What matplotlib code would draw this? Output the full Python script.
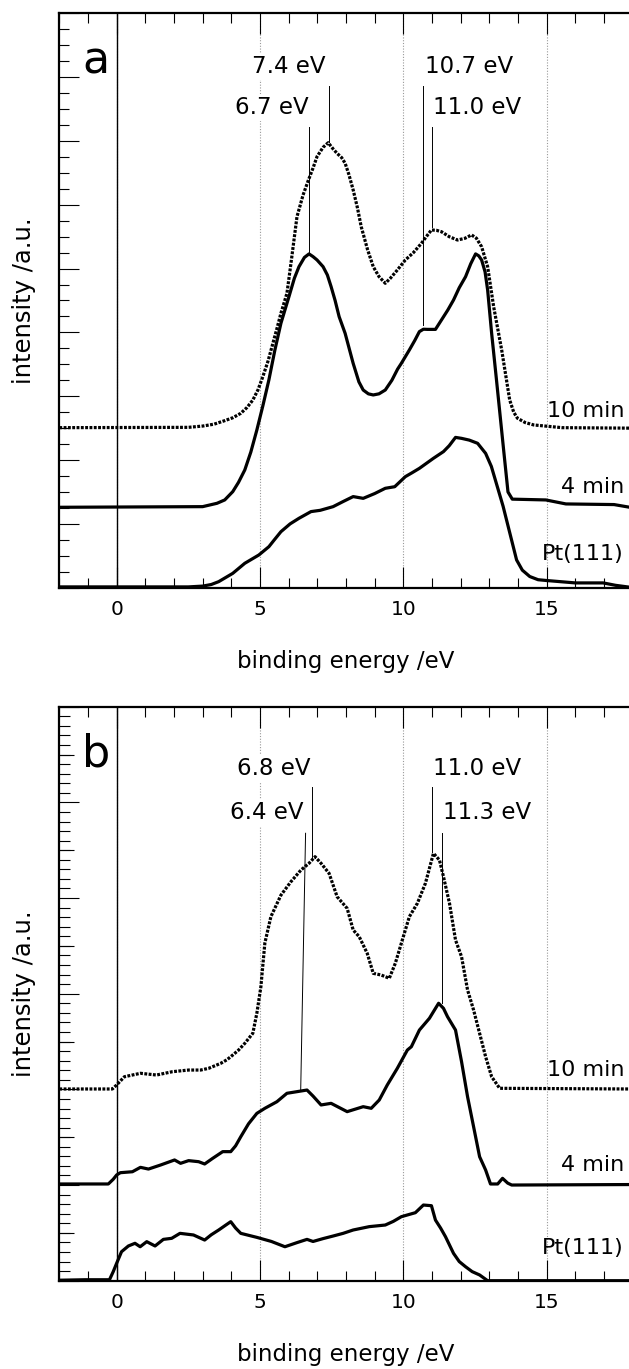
import numpy as np
import matplotlib.pyplot as plt
from matplotlib.ticker import MultipleLocator

plt.rcParams['font.family'] = ['DejaVu Sans']

# ---- panel a : spectra (binding energy / eV, intensity offset in a.u.)
a_pt_x = [-2.0, 2.5, 3.0, 3.3, 3.56, 4.05, 4.47, 4.96, 5.31, 5.5, 5.73, 6.05, 6.36, 6.78, 7.1, 7.55,
          7.9, 8.25, 8.6, 9.0, 9.37, 9.7, 10.07, 10.3, 10.56, 11.05, 11.4, 11.6, 11.82, 12.03,
          12.3, 12.59, 12.87, 13.07, 13.48, 13.95, 14.15, 14.41, 14.7, 15.0, 16.0, 16.97, 17.4, 17.9]
a_pt_y = [0.05, 0.05, 0.1, 0.2, 0.38, 0.9, 1.53, 2.05, 2.57, 3.0, 3.51, 4.0, 4.35, 4.77, 4.85, 5.08,
          5.4, 5.71, 5.6, 5.9, 6.23, 6.33, 6.96, 7.2, 7.48, 8.11, 8.53, 8.9, 9.42, 9.36,
          9.25, 9.05, 8.42, 7.6, 5.1, 1.74, 1.1, 0.7, 0.5, 0.45, 0.3, 0.3, 0.15, 0.03]

a_4min_x = [-2.0, 3.0, 3.5, 3.77, 4.05, 4.25, 4.47, 4.68, 4.89, 5.1, 5.31, 5.52, 5.73, 6.01, 6.2,
            6.36, 6.55, 6.71, 6.85, 6.99, 7.2, 7.35, 7.48, 7.62, 7.76, 7.97, 8.25, 8.45, 8.6,
            8.78, 8.95, 9.15, 9.37, 9.6, 9.8, 9.93, 10.21, 10.4, 10.56, 10.7, 10.84, 11.12, 11.33,
            11.55, 11.75, 11.95, 12.17, 12.35, 12.52, 12.63, 12.73, 12.85, 12.94, 13.08, 13.25,
            13.5, 13.65, 13.8, 14.97, 15.67, 17.35, 17.9]
a_4min_y = [5.04, 5.08, 5.29, 5.5, 6.02, 6.6, 7.38, 8.5, 9.88, 11.4, 13.02, 14.9, 16.57, 18.24, 19.4,
            20.12, 20.7, 20.92, 20.75, 20.54, 20.12, 19.6, 18.87, 18.0, 16.99, 15.94, 14.06, 12.9, 12.39,
            12.15, 12.08, 12.15, 12.39, 13.0, 13.7, 14.06, 14.9, 15.5, 16.05, 16.2, 16.19, 16.19, 16.78,
            17.4, 18.03, 18.8, 19.49, 20.3, 20.92, 20.8, 20.54, 19.8, 18.66, 15.94, 13.0,
            8.6, 6.0, 5.55, 5.5, 5.25, 5.21, 5.04]

a_10min_x = [-2.0, 2.5, 3.0, 3.4, 3.77, 4.05, 4.33, 4.55, 4.75, 4.93, 5.1, 5.28, 5.45, 5.6, 5.73,
             5.94, 6.1, 6.29, 6.5, 6.69, 6.85, 6.99, 7.2, 7.38, 7.55, 7.69, 7.85, 7.97, 8.1, 8.25,
             8.4, 8.53, 8.75, 8.95, 9.15, 9.37, 9.55, 9.79, 10.07, 10.35, 10.63, 10.8, 10.98, 11.15,
             11.33, 11.6, 11.89, 12.15, 12.38, 12.55, 12.73, 12.94, 13.15, 13.43, 13.71, 13.85,
             13.98, 14.25, 14.55, 15.53, 17.9]
a_10min_y = [10.03, 10.05, 10.13, 10.25, 10.47, 10.65, 10.93, 11.3, 11.76, 12.4, 13.23, 14.2, 15.32, 16.3, 17.2,
             18.45, 20.6, 23.25, 24.6, 25.55, 26.3, 27.02, 27.6, 27.89, 27.5, 27.22, 26.95, 26.6, 25.9, 24.93,
             23.8, 22.63, 21.2, 20.12, 19.5, 19.08, 19.4, 19.91, 20.54, 21.0, 21.58, 22.0, 22.42, 22.4,
             22.31, 22.0, 21.79, 21.9, 22.11, 21.9, 21.37, 20.12, 17.61, 14.9, 11.76, 11.0,
             10.62, 10.35, 10.2, 10.03, 10.0]

# ---- panel b
b_pt_x = [-2.0, -1.1, -0.25, -0.12, 0.0, 0.17, 0.41, 0.64, 0.82, 1.05, 1.34, 1.63, 1.92, 2.21,
          2.68, 3.07, 3.3, 3.56, 3.8, 3.98, 4.15, 4.33, 4.89, 5.4, 5.87, 6.29, 6.64, 6.85, 7.2, 7.55,
          7.9, 8.25, 8.81, 9.37, 9.65, 9.93, 10.42, 10.7, 10.98, 11.12, 11.3, 11.47, 11.75, 11.95,
          12.17, 12.4, 12.66, 12.94, 17.9]
b_pt_y = [0.05, 0.1, 0.1, 0.94, 1.82, 3.03, 3.63, 3.91, 3.55, 4.08, 3.63, 4.32, 4.43, 4.95,
          4.78, 4.25, 4.8, 5.3, 5.8, 6.17, 5.5, 4.95, 4.53, 4.1, 3.55, 3.98, 4.32, 4.1, 4.4, 4.67,
          4.95, 5.3, 5.65, 5.82, 6.2, 6.69, 7.11, 7.91, 7.84, 6.34, 5.5, 4.6, 2.86, 2.0,
          1.46, 0.95, 0.6, 0.0, 0.0]

b_4min_x = [-2.0, -0.29, -0.12, 0.0, 0.13, 0.55, 0.83, 1.11, 1.53, 2.02, 2.23, 2.51, 2.86, 3.07, 3.35,
            3.7, 3.98, 4.15, 4.33, 4.6, 4.89, 5.17, 5.59, 5.94, 6.29, 6.64, 6.85, 7.13, 7.48, 8.04,
            8.6, 8.88, 9.16, 9.44, 9.79, 10.14, 10.28, 10.56, 10.91, 11.05, 11.23, 11.4, 11.54,
            11.82, 12.03, 12.24, 12.45, 12.66, 12.87, 13.04, 13.29, 13.46, 13.64, 13.78, 17.9]
b_4min_y = [10.11, 10.11, 10.6, 11.05, 11.29, 11.39, 11.85, 11.67, 12.09, 12.62, 12.27, 12.55, 12.44, 12.2, 12.79,
            13.49, 13.49, 14.1, 15.05, 16.4, 17.49, 18.02, 18.71, 19.59, 19.76, 19.93, 19.3, 18.37, 18.54, 17.67,
            18.19, 18.02, 18.89, 20.46, 22.2, 24.11, 24.46, 26.2, 27.43, 28.12, 29.0, 28.47, 27.6,
            26.2, 22.9, 19.23, 16.1, 12.96, 11.57, 10.11, 10.11, 10.7, 10.2, 10.0, 10.05]

b_10min_x = [-2.0, -0.15, 0.0, 0.27, 0.83, 1.39, 1.95, 2.51, 2.93, 3.21, 3.63, 3.85, 4.05, 4.25,
             4.47, 4.6, 4.75, 4.89, 5.03, 5.17, 5.38, 5.73, 6.08, 6.43, 6.71, 6.92, 7.13, 7.41, 7.69,
             8.04, 8.25, 8.46, 8.74, 8.95, 9.23, 9.51, 9.72, 9.93, 10.21, 10.49, 10.77, 11.05, 11.26,
             11.4, 11.61, 11.82, 12.03, 12.24, 12.45, 12.66, 12.87, 13.08, 13.36, 17.9]
b_10min_y = [20.04, 20.04, 20.46, 21.32, 21.68, 21.5, 21.85, 22.02, 22.02, 22.2, 22.72, 23.1, 23.59, 24.1,
             24.81, 25.3, 25.86, 27.95, 30.7, 35.3, 38.05, 40.3, 41.71, 42.93, 43.63, 44.32, 43.63, 42.58, 40.14,
             38.92, 36.66, 35.96, 34.22, 32.13, 31.95, 31.61, 33.18, 35.27, 38.05, 39.45, 41.54, 44.67, 43.97,
             42.23, 39.45, 35.61, 33.87, 30.39, 28.3, 25.86, 23.41, 21.32, 20.11, 20.04]

# peak markers: label, label x, align, label y, line x top, line y top, line x bottom, line y bottom
a_marks = [("7.4 eV", 7.27, "right", 32.28, 7.4, 31.44, 7.4, 27.95),
           ("6.7 eV", 6.70, "right", 29.67, 6.7, 28.89, 6.7, 20.96),
           ("10.7 eV", 10.75, "left", 32.28, 10.7, 31.44, 10.7, 16.46),
           ("11.0 eV", 11.03, "left", 29.67, 11.0, 28.89, 11.0, 22.63)]
b_marks = [("6.8 eV", 6.77, "right", 52.86, 6.8, 51.57, 6.8, 43.97),
           ("6.4 eV", 6.52, "right", 48.23, 6.59, 46.77, 6.42, 19.93),
           ("11.0 eV", 11.04, "left", 52.86, 11.0, 51.57, 11.0, 44.84),
           ("11.3 eV", 11.39, "left", 48.23, 11.35, 46.77, 11.35, 29.0)]

# curve names and the heights of their labels
names = ["10 min", "4 min", "Pt(111)"]
a_name_y = [10.72, 5.92, 1.74]
b_name_y = [21.4, 11.47, 2.8]

W, H = 629, 1369
fig = plt.figure(figsize=(W / 100, H / 100), dpi=100)
ax_a = fig.add_axes([59.3 / W, 1 - 587.7 / H, 573.4 / W, 574.4 / H])
ax_b = fig.add_axes([59.3 / W, 1 - 1280.7 / H, 573.4 / W, 574.0 / H])


def draw_panel(ax, curves, marks, name_y, letter, ymax):
    ax.set_xlim(-2, 18)
    ax.set_ylim(0, ymax)
    ax.xaxis.set_major_locator(MultipleLocator(5))
    ax.xaxis.set_minor_locator(MultipleLocator(1))
    ax.grid(True, axis="x", which="major", color="0.6", lw=0.8, ls=(0, (1, 1.5)))
    ax.axvline(0, color="k", lw=1.0, zorder=1.8)

    for (x, y), ls in zip(curves, [(0, (0.9, 0.45)), "-", "-"]):
        ax.plot(x, y, color="k", lw=2.3, ls=ls, solid_capstyle="butt",
                solid_joinstyle="round", zorder=2.5)

    for lab, tx, ha, ty, x0, y0, x1, y1 in marks:
        ax.plot([x0, x1], [y0, y1], color="k", lw=0.7, zorder=2.2)
        ax.text(tx, ty, lab, ha=ha, va="baseline", fontsize=16.5, zorder=3,
                bbox=dict(facecolor="white", edgecolor="none", pad=1.5))

    for nm, ny in zip(names, name_y):
        ax.text(17.7, ny, nm, ha="right", va="baseline", fontsize=16)

    ax.text(-1.2, ymax * 0.895, letter, ha="left", va="baseline", fontsize=32)

    for s in ["top", "bottom", "left"]:
        ax.spines[s].set_linewidth(1.6)
    ax.spines["right"].set_visible(False)
    ax.tick_params(axis="x", which="both", top=True, bottom=True, direction="in",
                   width=0.8, labelsize=14.5, pad=9)
    ax.tick_params(axis="x", which="major", length=15)
    ax.tick_params(axis="x", which="minor", length=7.2)
    ax.tick_params(axis="y", which="both", left=True, right=False, direction="in",
                   width=0.8, labelleft=False)
    ax.set_xlabel("binding energy /eV", fontsize=16.5, labelpad=22)
    ax.set_ylabel("intensity /a.u.", fontsize=17.5)
    ax.yaxis.set_label_coords(-0.04, 0.5)


draw_panel(ax_a, [(a_10min_x, a_10min_y), (a_4min_x, a_4min_y), (a_pt_x, a_pt_y)],
           a_marks, a_name_y, "a", 36)
ax_a.yaxis.set_major_locator(MultipleLocator(4))
ax_a.yaxis.set_minor_locator(MultipleLocator(1))
ax_a.tick_params(axis="y", which="major", length=14.4)
ax_a.tick_params(axis="y", which="minor", length=7.2)

draw_panel(ax_b, [(b_10min_x, b_10min_y), (b_4min_x, b_4min_y), (b_pt_x, b_pt_y)],
           b_marks, b_name_y, "b", 60)
ax_b.yaxis.set_major_locator(MultipleLocator(10))
ax_b.yaxis.set_minor_locator(MultipleLocator(1))
ax_b.tick_params(axis="y", which="major", length=14.4)
ax_b.tick_params(axis="y", which="minor", length=8)
sec = ax_b.secondary_yaxis("left")
sec.set_yticks(np.arange(5, 60, 10))
sec.tick_params(axis="y", direction="in", length=11, width=0.8, labelleft=False)
sec.spines["left"].set_visible(False)

fig.savefig("out.png", dpi=100)
